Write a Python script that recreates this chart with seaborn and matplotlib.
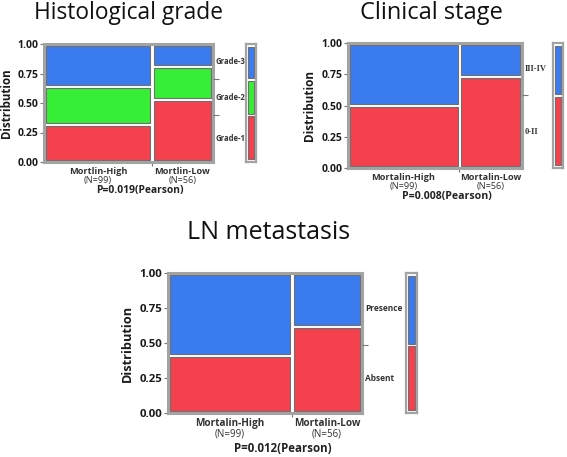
import numpy as np
import pandas as pd
import matplotlib
matplotlib.use("Agg")
import matplotlib.pyplot as plt
import seaborn as sns

# ---------------- data ----------------
groups_hist = ["Mortlin-High", "Mortlin-Low"]
groups_mort = ["Mortalin-High", "Mortalin-Low"]
n_labels = ["(N=99)", "(N=56)"]
n_counts = [99, 56]

grade_levels = ["Grade-1", "Grade-2", "Grade-3"]
grade_high = [0.32, 0.32, 0.36]
grade_low = [0.53, 0.28, 0.19]

stage_levels = ["0-II", "III-IV"]
stage_high = [0.50, 0.50]
stage_low = [0.73, 0.27]

ln_levels = ["Absent", "Presence"]
ln_high = [0.41, 0.59]
ln_low = [0.62, 0.38]

titles = ["Histological grade", "Clinical stage", "LN metastasis"]
p_texts = ["P=0.019(Pearson)", "P=0.008(Pearson)", "P=0.012(Pearson)"]
y_ticks = [0.0, 0.25, 0.5, 0.75, 1.0]
y_ticklabels = ["0.00", "0.25", "0.50", "0.75", "1.00"]

RED, GREEN, BLUE = "#f5404e", "#35ee35", "#3a7cf0"
FRAME = "#a3a3a3"
CELL_EDGE = "#6f6f6f"

sns.set_theme(style="white")
plt.rcParams["font.family"] = ["Open Sans", "DejaVu Sans"]

W, H = 567, 457
fig = plt.figure(figsize=(W / 100, H / 100), dpi=100)


def rect(x0, y0, x1, y1):
    return [x0 / W, 1 - y1 / H, (x1 - x0) / W, (y1 - y0) / H]


def shrink(ax, patches, gap_px, wpx, hpx, xspan=1.0, yspan=1.0):
    gx = gap_px / wpx * xspan
    gy = gap_px / hpx * yspan
    for p in patches:
        x, y, w, h = p.get_x(), p.get_y(), p.get_width(), p.get_height()
        p.set_bounds(x + gx, y + gy, w - 2 * gx, h - 2 * gy)
        p.set_edgecolor(CELL_EDGE)
        p.set_linewidth(0.8)


def mosaic(ax_px, leg_px, levels, high, low, colors, groups, title, title_xy,
           ptext, p_xy, fs, level_font=None):
    ax = fig.add_axes(rect(*ax_px))
    wpx = ax_px[2] - ax_px[0]
    hpx = ax_px[3] - ax_px[1]
    total = sum(n_counts)
    split = n_counts[0] / total
    edges = [0.0, split, 1.0]
    centers = [split / 2, (split + 1) / 2]
    rows = []
    for gi, props in enumerate([high, low]):
        for lev, p in zip(levels, props):
            rows.append({"x": centers[gi], "p": p, "level": lev})
    df = pd.DataFrame(rows)
    pal = dict(zip(levels, colors))
    sns.histplot(data=df, x="x", weights="p", hue="level",
                 hue_order=levels[::-1], bins=edges, multiple="stack",
                 palette=pal, alpha=1, legend=False, ax=ax)
    ax.set_xlim(0, 1)
    ax.set_ylim(0, 1)
    shrink(ax, ax.patches, 1.6, wpx, hpx)
    for s in ax.spines.values():
        s.set_color(FRAME)
        s.set_linewidth(2.2)
    ax.set_yticks(y_ticks)
    ax.set_yticklabels(y_ticklabels, fontweight="bold", fontsize=fs["tick"],
                       color="#1a1a1a")
    ax.set_xticks([split])
    ax.set_xticklabels([""])
    ax.tick_params(axis="both", which="major", left=True, bottom=True,
                   direction="out", length=3, width=0.8, color="#777777",
                   pad=1)
    ax.set_xlabel("")
    ax.set_ylabel("Distribution", fontweight="bold", fontsize=fs["ylab"],
                  color="#1a1a1a", labelpad=fs["ylpad"])
    # group labels
    for c, g, nl in zip(centers, groups, n_labels):
        ax.annotate(g, xy=(c, 0), xycoords=("data", "axes fraction"),
                    xytext=(0, -fs["gpad"]), textcoords="offset points",
                    ha="center", va="top", fontsize=fs["grp"],
                    fontweight="bold", color="#333333")
        ax.annotate(nl, xy=(c, 0), xycoords=("data", "axes fraction"),
                    xytext=(0, -fs["gpad"] - fs["grp"] * 1.05),
                    textcoords="offset points", ha="center", va="top",
                    fontsize=fs["n"], color="#333333")
    # marginal proportions
    marg = [(h * n_counts[0] + l * n_counts[1]) / total for h, l in zip(high, low)]
    cum = np.cumsum([0] + marg)
    ax2 = ax.twinx()
    ax2.set_ylim(0, 1)
    ax2.set_yticks(list(cum[1:-1]))
    ax2.set_yticklabels([""] * (len(cum) - 2))
    ax2.tick_params(axis="y", right=True, direction="out", length=4,
                    width=0.8, color="#777777")
    ax2.grid(False)
    for s in ax2.spines.values():
        s.set_visible(False)
    for lev, a, b in zip(levels, cum[:-1], cum[1:]):
        kw = dict(fontsize=fs["lev"], fontweight="bold", color="#333333")
        if level_font:
            kw["family"] = level_font
        ax.annotate(lev, xy=(1, (a + b) / 2),
                    xycoords=("axes fraction", "data"),
                    xytext=(fs["levpad"], 0), textcoords="offset points",
                    ha="left", va="center", **kw)
    # legend bar
    axl = fig.add_axes(rect(*leg_px))
    axl.patch.set_alpha(0)
    lw_px = leg_px[2] - leg_px[0]
    lh_px = leg_px[3] - leg_px[1]
    bottoms = cum[:-1]
    axl.bar([0] * len(marg), marg, bottom=bottoms, width=0.62,
            color=colors, align="center")
    axl.set_xlim(-0.5, 0.5)
    axl.set_ylim(-0.012, 1.012)
    shrink(axl, axl.patches, 1.3, lw_px, lh_px, xspan=0.0, yspan=1.024)
    axl.set_xticks([])
    axl.set_yticks([])
    for s in axl.spines.values():
        s.set_color(FRAME)
        s.set_linewidth(1.6)
    # titles
    fig.text(title_xy[0] / W, 1 - title_xy[1] / H, title, ha="center",
             va="center", fontsize=fs["title"], color="#111111")
    fig.text(p_xy[0] / W, 1 - p_xy[1] / H, ptext, ha="center", va="center",
             fontsize=fs["p"], fontweight="bold", color="#222222")
    return ax


fs1 = dict(tick=7.5, ylab=8.3, ylpad=3, grp=6.6, n=6.6, gpad=3.5, lev=5.5,
           levpad=1.5, title=16.4, p=7.4)
fs2 = dict(tick=7.5, ylab=8.5, ylpad=4, grp=6.6, n=6.6, gpad=3.5, lev=6.1,
           levpad=2, title=17, p=7.6)
fs3 = dict(tick=8.2, ylab=9.2, ylpad=4, grp=7.2, n=7.0, gpad=3.5, lev=6.0,
           levpad=2, title=18, p=8.3)

mosaic((44, 44, 213, 162), (246, 44, 256, 162), grade_levels, grade_high,
       grade_low, [RED, GREEN, BLUE], groups_hist, titles[0], (128, 13),
       p_texts[0], (140, 191), fs1)
mosaic((348, 43, 522, 168), (553, 43, 563, 168), stage_levels, stage_high,
       stage_low, [RED, BLUE], groups_mort, titles[1], (431, 13),
       p_texts[1], (447, 197), fs2, level_font="Liberation Serif")
mosaic((168, 273, 362, 413), (406, 273, 417, 413), ln_levels, ln_high,
       ln_low, [RED, BLUE], groups_mort, titles[2], (269, 233),
       p_texts[2], (283, 448), fs3)

fig.savefig("out.png", dpi=100)
